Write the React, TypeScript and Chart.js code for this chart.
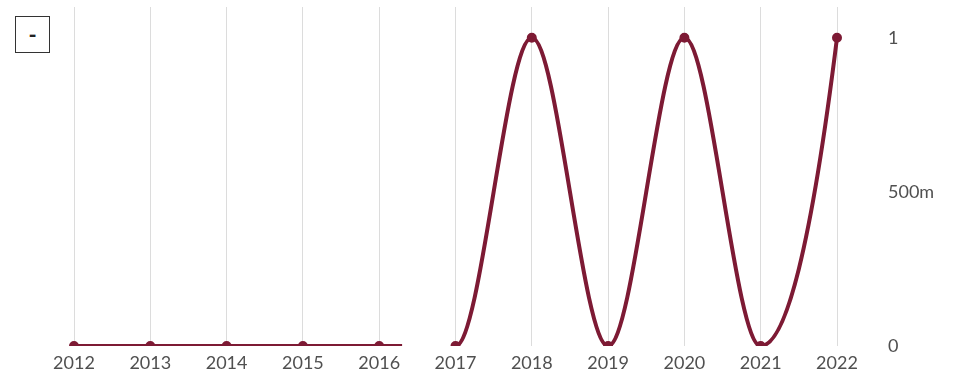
import React, { useEffect, useRef } from "react";
import { Chart, registerables } from "chart.js";

Chart.register(...registerables);

const years = [2012, 2013, 2014, 2015, 2016, 2016.3, 2016.5, 2017, 2018, 2019, 2020, 2021, 2022];
const values: (number | null)[] = [0, 0, 0, 0, 0, 0, null, 0, 1, 0, 1, 0, 1];
const pointShown = [1, 1, 1, 1, 1, 0, 0, 1, 1, 1, 1, 1, 1];
const xTicks = [2012, 2013, 2014, 2015, 2016, 2017, 2018, 2019, 2020, 2021, 2022];
const yTicks = [0, 0.5, 1];
const yTickLabels = ["0", "500m", "1"];
const seriesName = "-";

const COLOR = "#7d1a34";
const TEXT = "#505050";

// end-of-segment tangent factors (relative to segment secant) for the spline look
const START_SLOPE = 0;
const END_SLOPE = 2;

const endTangents = {
  id: "endTangents",
  beforeDatasetsDraw(chart: any) {
    const meta = chart.getDatasetMeta(0);
    const line = meta.dataset;
    if (!line) return;
    line.updateControlPoints(chart.chartArea, "x");
    const pts = line.points;
    const n = pts.length;
    for (let i = 0; i < n; i++) {
      const p = pts[i];
      if (p.skip) continue;
      const prev = i > 0 ? pts[i - 1] : null;
      const next = i < n - 1 ? pts[i + 1] : null;
      const segStart = (!prev || prev.skip) && next && !next.skip;
      const segEnd = (!next || next.skip) && prev && !prev.skip;
      if (segStart && next.y !== p.y) {
        const dx = (next.x - p.x) / 3;
        const secant = (next.y - p.y) / (next.x - p.x);
        p.cp2x = p.x + dx;
        p.cp2y = p.y + dx * secant * START_SLOPE;
      }
      if (segEnd && prev.y !== p.y) {
        const dx = (p.x - prev.x) / 3;
        const secant = (p.y - prev.y) / (p.x - prev.x);
        p.cp1x = p.x - dx;
        p.cp1y = p.y - dx * secant * END_SLOPE;
      }
    }
  },
};

export default function App() {
  const ref = useRef<HTMLCanvasElement>(null);
  useEffect(() => {
    document.body.style.margin = "0";
    const ctx = ref.current!;
    const chart = new Chart(ctx, {
      type: "line",
      data: {
        datasets: [
          {
            label: seriesName,
            data: years.map((x, i) => ({ x, y: values[i] as any })),
            borderColor: COLOR,
            backgroundColor: COLOR,
            borderWidth: 4,
            pointRadius: pointShown.map((p) => (p ? 3 : 0)),
            pointHoverRadius: 3,
            cubicInterpolationMode: "monotone",
            spanGaps: false,
            clip: { left: 8, right: 8, top: 8, bottom: 0 } as any,
          },
        ],
      },
      plugins: [endTangents],
      options: {
        animation: false,
        responsive: false,
        maintainAspectRatio: false,
        layout: { padding: { left: 74, top: 5, right: 0, bottom: 0 } },
        plugins: { legend: { display: false }, tooltip: { enabled: false } },
        scales: {
          x: {
            type: "linear",
            min: 2012,
            max: 2022,
            border: { display: false },
            grid: { color: "#dcdcdc", lineWidth: 1, drawTicks: false },
            afterBuildTicks: (s: any) => {
              s.ticks = xTicks.map((v) => ({ value: v }));
            },
            ticks: {
              color: TEXT,
              font: { family: "Lato", size: 18 },
              padding: 6,
              maxRotation: 0,
              autoSkip: false,
              callback: (v: any) => String(v),
            },
            afterFit: (s: any) => {
              s.height = 31;
            },
          },
          y: {
            position: "right",
            min: 0,
            max: 1.1,
            border: { display: false },
            grid: { display: false, drawTicks: false },
            afterBuildTicks: (s: any) => {
              s.ticks = yTicks.map((v) => ({ value: v }));
            },
            ticks: {
              color: TEXT,
              font: { family: "Lato", size: 18 },
              padding: 51,
              callback: (v: any) => {
                const i = yTicks.indexOf(Number(v));
                return i >= 0 ? yTickLabels[i] : "";
              },
            },
            afterFit: (s: any) => {
              s.width = 121;
              s.paddingTop = 0;
              s.paddingBottom = 0;
            },
          },
        },
      },
    });
    return () => chart.destroy();
  }, []);
  return (
    <div style={{ position: "relative", width: 958, height: 377 }}>
      <canvas ref={ref} width={958} height={377} style={{ display: "block" }} />
      <div
        style={{
          position: "absolute",
          left: 15,
          top: 16,
          width: 33,
          height: 35,
          border: "1px solid #333",
          background: "#fff",
          display: "flex",
          alignItems: "center",
          justifyContent: "center",
          fontFamily: "Lato",
          fontWeight: 700,
          fontSize: 22,
          color: "#222",
        }}
      >
        {seriesName}
      </div>
    </div>
  );
}
